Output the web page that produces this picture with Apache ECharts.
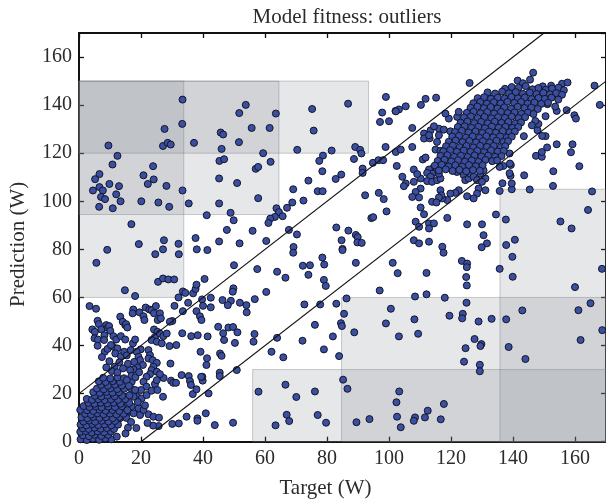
<!DOCTYPE html>
<html><head><meta charset="utf-8">
<script src="https://cdn.jsdelivr.net/npm/echarts/dist/echarts.min.js"></script>
<style>html,body{margin:0;padding:0;background:#fff}#c{width:606px;height:504px}</style>
</head><body><div id="c"></div>
<script>
const titleText = 'Model fitness: outliers';
const xName = 'Target (W)';
const yName = 'Prediction (W)';
const axisMin = 0, axisMax = 170, tickStep = 20;
const bandOffsets = [20, -20];
// outlier boxes: [x0, x1, y0, y1]
const outlierBoxes = [[0,93.4,120,150],[0,64.5,94.5,150],[0,33.8,60,150],[56,170,0,30],[84.7,170,0,60],[135.8,170,0,105]];

const sparseUpperLeft = [[33.4,142.3],[33.3,132.2],[53.8,140.1],[51.7,136.7],[63.5,136.5],[55.7,130.5],[61.5,130.5],[45.7,128.6],[46.5,127.8],[27.6,130.1],[9.5,123.2],[27.1,123.0],[28.6,124.3],[29.6,123.6],[37.1,124.3],[51.6,124.6],[46.0,121.8],[70.4,121.4],[59.4,120.0],[12.4,118.9],[45.3,116.8],[46.8,117.5],[61.8,116.4],[10.8,115.3],[23.9,114.6],[57.0,113.5],[57.8,114.3],[6.6,111.3],[5.2,109.2],[20.8,110.8],[24.1,109.1],[45.2,109.5],[51.0,107.6],[9.8,107.2],[22.2,107.2],[6.6,105.9],[12.9,106.3],[28.2,106.4],[4.5,104.5],[7.7,104.5],[33.4,104.5],[69.1,105.0],[12.0,102.9],[7.1,101.8],[8.4,100.9],[13.4,100.0],[20.1,100.0],[25.6,99.5],[35.4,99.1],[45.2,99.1],[57.8,101.3],[68.8,99.5],[6.5,97.7],[10.9,97.1],[29.1,97.7],[63.7,97.1],[67.1,97.3],[64.5,95.5],[48.9,95.2],[41.2,94.2],[65.7,93.8],[63.2,93.5],[61.7,92.8],[61.1,91.0],[49.9,92.1],[16.9,90.5],[47.7,88.1],[67.7,88.1],[56.0,87.7],[70.3,86.2],[60.4,83.5],[19.3,82.2],[27.4,83.8],[32.1,82.3],[37.6,84.7],[45.2,83.3],[51.8,82.5],[69.2,81.0],[9.1,79.8],[27.1,80.0],[38.0,80.0],[41.4,79.7]];

const sparseLowerLeft = [[24.6,78.0],[32.2,78.0],[5.6,74.4],[25.5,66.5],[27.1,67.9],[28.8,67.5],[30.7,67.5],[14.8,63.0],[18.1,60.6],[33.5,62.5],[34.3,61.9],[36.8,61.7],[37.6,63.5],[37.9,65.3],[40.5,67.7],[32.1,60.0],[50.0,73.4],[57.5,71.8],[63.9,70.7],[66.6,68.2],[69.1,78.6],[39.7,59.2],[42.5,59.9],[49.0,58.6],[49.8,63.8],[49.6,62.4],[51.9,57.8],[54.0,56.8],[54.1,53.8],[48.0,56.8],[46.3,58.9],[56.7,59.3],[60.4,62.3],[40.0,56.5],[37.9,54.3],[42.5,55.9],[35.2,57.8],[33.5,54.3],[30.8,56.5],[39.0,52.2],[39.5,50.6],[44.9,47.8],[46.5,45.1],[48.2,47.5],[49.7,47.7],[51.1,45.5],[46.8,42.3],[50.3,41.1],[45.5,36.7],[46.0,35.7],[41.5,43.8],[39.2,37.4],[41.3,34.7],[41.1,31.9],[39.9,25.4],[39.8,27.0],[33.3,45.1],[30.1,50.2],[29.3,49.9],[56.6,44.8],[56.3,41.6],[63.9,43.2],[62.1,37.4],[65.9,35.1],[50.9,29.8],[45.4,28.7],[45.4,27.3],[33.1,27.7],[35.4,27.3],[35.8,25.2],[36.1,23.6],[36.7,19.8],[37.9,21.8],[39.4,27.0],[41.8,20.1],[27.3,26.5],[29.7,25.4],[30.4,24.5],[31.3,24.5],[27.1,18.7],[34.7,10.4],[38.2,9.7],[38.2,8.7],[40.9,11.8],[43.8,6.9],[49.7,7.9],[30.1,7.4],[32.2,7.6],[22.4,11.4],[24.0,10.4],[25.8,10.0],[25.7,6.5],[23.9,6.7],[15.8,5.8],[10.4,1.0],[57.9,20.8],[63.4,6.8],[66.6,23.7],[67.0,11.2],[67.8,8.6],[70.1,18.6],
[3.4,56.4],[5.5,55.3],[4.3,46.7],[5.1,45.7],[6.0,50.3],[6.4,48.9],[5.0,43.0],[6.1,42.5],[7.2,46.7],[8.2,44.3],[8.1,42.3],[6.0,39.9],[8.3,37.4],[8.8,48.5],[9.3,47.4],[9.7,48.1],[10.1,46.1],[11.1,43.9],[12.0,42.5],[11.0,39.5],[12.4,38.8],[13.3,52.0],[14.1,49.9],[14.9,48.5],[15.2,48.9],[15.6,47.5],[13.5,43.9],[14.9,42.5],[11.7,36.7],[13.5,35.6],[14.6,37.4],[15.4,35.9],[16.7,38.1],[17.4,40.9],[18.1,42.5],[17.5,55.0],[17.3,53.4],[19.5,53.8],[20.8,52.2],[21.1,50.6],[21.5,55.8],[22.7,55.0],[23.4,54.7],[24.2,53.4],[24.8,56.4],[26.1,53.4],[25.4,50.6],[26.4,51.3],[19.9,38.4],[18.6,37.4],[19.2,35.3],[19.7,33.9],[20.6,31.9],[18.8,30.9],[17.6,30.1],[16.5,29.8],[24.2,46.7],[25.3,45.7],[24.5,43.6],[26.1,45.0],[27.2,43.9],[28.3,45.0],[23.4,42.3],[25.1,41.6],[26.7,40.9],[22.4,38.1],[22.9,36.0],[22.4,34.6],[23.8,33.9],[25.1,32.8],[24.0,31.2],[23.4,29.8],[25.1,29.1],[26.1,28.1],[22.9,28.1],[21.8,27.0],[20.8,24.9],[21.8,22.9],[20.0,21.5],[18.8,18.7],[20.2,18.0],[21.8,19.4],[23.4,21.2],[24.5,24.0],[25.1,25.6],[25.3,21.5],[17.0,24.9],[16.7,22.2],[18.1,21.5],[17.6,18.7],[17.0,14.6],[19.2,13.9],[17.6,11.8],[19.7,11.1],[20.8,13.2],[15.2,18.7],[14.6,15.9],[13.8,13.4],[15.4,12.0],[14.9,10.4],[13.1,9.7],[11.7,8.7],[29.2,39.8],[31.4,40.2],[29.5,32.5],[36.2,43.9],[38.3,44.3]];

const sparseUpperRight = [[75.2,138.4],[75.7,129.4],[86.8,140.6],[99.0,143.4],[97.8,136.9],[97.1,133.0],[100.0,133.3],[102.1,137.6],[103.2,138.2],[105.4,139.5],[110.3,140.1],[111.8,142.6],[115.2,143.1],[126.0,149.2],[146.5,153.5],[166.3,148.1],[168.0,140.1],[107.5,130.5],[81.5,121.1],[89.1,122.6],[90.7,121.4],[91.1,119.9],[78.7,119.0],[77.5,116.8],[78.5,112.5],[88.7,117.6],[94.8,116.0],[96.6,117.1],[98.1,117.1],[102.5,114.7],[91.5,113.6],[91.5,111.8],[84.6,111.1],[82.8,109.3],[74.0,108.6],[77.0,104.2],[78.6,104.2],[72.4,100.3],[92.3,102.5],[96.7,103.5],[98.3,100.9],[99.2,95.8],[94.3,93.0],[94.9,93.4],[83.0,89.1],[86.9,87.8],[89.3,86.0],[89.9,85.1],[89.8,82.9],[91.2,82.7],[84.7,83.8],[85.0,80.2],
[135.7,104.3],[139.6,105.0],[145.4,104.9],[152.9,106.4],[155.3,91.6],[158.9,88.7],[164.2,96.4],[165.5,104.1],[136.6,107.5],[139.2,110.6],[138.9,111.7],[139.6,107.4],[143.6,110.8],[147.4,118.9],[149.3,118.5],[149.3,120.5],[151.0,122.4],[154.1,123.7],[153.0,112.5],[158.7,120.4],[159.2,123.7],[161.4,114.6],[147.9,129.6],[150.5,127.1],[149.4,127.2],[148.2,132.2],[136.9,114.7],[139.3,115.1],[159.8,135.8],[160.3,134.4],[157.3,137.9],[154.1,137.6],[153.6,139.4],[151.1,140.4],[150.5,135.4],[147.2,133.4],[146.1,131.6],[143.5,127.1],[138.9,119.9],[139.0,115.7],[135.7,114.3],[134.5,94.5],[137.7,92.4],[140.6,84.0],[137.8,81.8],
[111.3,128.2],[113.4,129.5],[116.1,130.2],[117.7,129.8],[119.8,129.1],[114.5,131.2],[119.3,134.4],[122.0,135.1],[122.5,137.2],[118.2,136.5],[102.2,137.4],[111.3,126.1],[113.1,126.2],[115.5,124.7],[116.1,127.5],[112.9,127.5],[98.9,122.6],[102.2,120.5],[103.8,121.5],[107.5,122.6],[115.0,121.5],[116.6,121.0],[117.2,119.2],[110.9,117.4],[111.8,118.2],[116.6,117.1],[117.7,115.7],[116.1,115.0],[114.5,114.3],[112.9,113.2],[115.0,112.2],[113.9,111.5],[112.3,111.8],[113.4,110.2],[112.3,108.4],[113.9,108.1],[115.5,108.8],[116.6,109.5],[116.1,111.5],[121.9,112.2],[123.6,112.2],[124.1,110.9],[124.6,108.8],[125.7,109.5],[126.2,111.5],[127.3,110.2],[128.4,108.8],[129.5,111.5],[130.5,112.9],[131.1,109.5],[130.0,108.1],[128.9,105.3],[131.1,104.6],[128.4,103.2],[125.2,102.1],[127.3,101.2],[122.5,104.6],[121.4,103.5],[119.8,103.2],[118.8,100.5],[117.2,101.2],[116.6,104.6],[116.9,102.5],[116.1,101.6],[113.9,99.8],[115.3,99.5],[110.2,105.3],[108.0,108.1],[108.6,103.9],[107.5,101.8],[109.7,101.6],[110.2,97.4],[111.3,94.6],[105.4,107.4],[104.8,106.3],[104.3,110.2],[108.0,113.2],[110.2,109.5],[109.1,111.3],[108.6,91.5],[109.7,89.4],[112.9,90.8],[114.5,90.8],[112.9,88.7],[118.8,93.1],[125.2,90.4],[130.0,90.4],[108.0,83.8],[109.7,82.5],[112.9,83.2],[117.2,81.1],[130.5,85.9],[131.6,82.5],[129.9,80.9]];

const sparseLowerRight = [[78.5,76.6],[79.1,73.7],[72.2,73.2],[74.5,73.4],[74.0,69.4],[79.0,67.3],[79.6,64.8],[85.0,79.7],[89.3,74.4],[101.2,74.4],[102.8,70.1],[112.1,70.2],[117.6,78.6],[123.5,75.2],[125.2,74.1],[125.1,72.6],[124.9,68.5],[125.1,65.0],[135.7,71.9],[139.8,76.9],[139.9,68.6],[168.7,71.9],[160.0,64.3],[97.0,62.9],[108.4,60.4],[112.1,61.3],[118.0,59.9],[125.0,57.8],[72.7,57.1],[77.8,57.1],[83.0,57.4],[86.3,59.6],[100.6,55.3],[85.5,53.2],[76.1,48.6],[84.5,49.3],[84.8,48.1],[88.8,45.5],[99.0,49.2],[108.2,50.9],[109.4,44.9],[103.2,43.8],[72.1,42.0],[81.9,43.8],[79.0,38.4],[83.9,35.6],[119.5,52.4],[123.8,53.2],[123.6,51.3],[128.9,50.0],[133.1,51.1],[137.8,50.9],[143.0,54.6],[161.1,54.7],[165.0,57.6],[168.8,46.4],[161.8,42.3],[127.6,42.7],[129.8,40.6],[129.5,39.8],[124.7,38.9],[138.6,39.4],[144.0,34.4],[124.2,33.3],[129.3,32.0],[129.3,29.3],[85.2,25.8],[86.6,22.0],[76.1,20.9],[77.0,11.1],[79.7,7.9],[89.5,8.1],[93.7,9.4],[103.3,20.9],[102.4,16.4],[102.6,10.4],[103.8,6.0],[108.4,10.1],[108.0,8.7],[111.6,10.1],[112.5,12.9],[117.7,15.7],[116.7,9.3]];

const clusterHigh = [[141.5,150.2],[143.2,149.1],[145.5,150.6],[155.8,148.9],[157.6,149.4],[152.3,148.1],[149.6,147.8],
[137.4,146.8],[139.6,147.5],[141.8,147.2],[144.1,147.9],[146.3,146.6],[148.2,147.1],[150.5,146.4],[152.6,146.9],[154.7,147.3],[156.4,146.2],
[131.8,145.3],[134.2,144.8],[136.5,145.6],[138.7,144.9],[140.9,145.4],[143.2,144.7],[145.4,145.2],[147.6,144.6],[149.8,145.1],[151.9,144.5],[153.9,145.0],[155.8,144.3],
[128.6,142.9],[130.7,143.3],[132.9,142.6],[135.1,143.1],[137.3,142.7],[139.5,143.4],[141.6,142.8],[143.8,143.2],[146.0,142.5],[148.2,143.0],[150.3,142.6],[152.4,143.1],[154.6,142.3],
[127.2,140.8],[129.4,141.3],[131.6,140.6],[133.8,141.2],[136.0,140.7],[138.2,141.4],[140.4,140.9],[142.6,141.3],[144.7,140.6],[146.9,141.1],[149.1,140.5],[151.3,141.0],
[126.3,138.9],[128.5,139.4],[130.6,138.7],[132.8,139.2],[135.0,138.6],[137.2,139.1],[139.4,138.5],[141.5,139.3],[143.7,138.8],[145.9,139.0],[148.0,138.4],
[125.1,136.8],[127.3,137.3],[129.5,136.6],[131.7,137.1],[133.9,136.5],[136.1,137.2],[138.3,136.7],[140.5,137.0],[142.7,136.4],[144.8,136.9],[146.6,136.3],
[124.2,134.9],[126.4,135.3],[128.6,134.6],[130.8,135.1],[133.0,134.5],[135.2,135.0],[137.4,134.7],[139.6,135.2],[141.8,134.6],[143.9,135.0],
[123.1,132.7],[125.3,133.2],[127.5,132.5],[129.7,133.0],[131.9,132.4],[134.1,133.1],[136.3,132.6],[138.5,133.0],[140.7,132.3],[142.6,132.8],
[122.2,130.9],[124.4,131.2],[126.6,130.5],[128.8,131.0],[131.0,130.4],[133.2,131.1],[135.4,130.6],[137.6,131.0],[139.8,130.5],[141.7,130.9],
[121.3,128.8],[123.5,129.3],[125.7,128.6],[127.9,129.1],[130.1,128.4],[132.3,129.0],[134.5,128.5],[136.7,129.2],[138.9,128.7],[140.6,129.0],
[120.4,126.9],[122.6,127.2],[124.8,126.5],[127.0,127.0],[129.2,126.4],[131.4,127.1],[133.6,126.6],[135.8,127.0],[138.0,126.5],[139.6,126.9],
[119.3,124.8],[121.5,125.3],[123.7,124.6],[125.9,125.1],[128.1,124.5],[130.3,125.0],[132.5,124.4],[134.7,125.2],[136.9,124.7],[138.4,125.0],
[118.4,122.9],[120.6,123.2],[122.8,122.5],[125.0,123.0],[127.2,122.4],[129.4,123.1],[131.6,122.6],[133.8,123.0],[136.0,122.5],[137.5,122.9],
[117.5,120.8],[119.7,121.3],[121.9,120.6],[124.1,121.1],[126.3,120.5],[128.5,121.0],[130.7,120.4],[132.9,121.2],[135.1,120.7],[137.0,120.9],
[116.6,118.9],[118.8,119.2],[121.0,118.5],[123.2,119.0],[125.4,118.4],[127.6,119.1],[129.8,118.6],[132.0,119.0],[134.2,118.5],[136.3,118.8],
[115.7,116.8],[117.9,117.3],[120.1,116.6],[122.3,117.1],[124.5,116.5],[126.7,117.0],[128.9,116.4],[131.1,117.2],[133.3,116.7],[134.9,117.0],
[114.8,114.9],[117.0,115.2],[119.2,114.5],[121.4,115.0],[123.6,114.4],[125.8,115.1],[128.0,114.6],[130.2,115.0],
[116.1,112.8],[118.3,113.3],[120.5,112.6],[122.7,113.1],[124.9,112.5],[127.1,113.0],[129.3,112.7]];

const clusterLow = [[0.5,1.0],[2.5,0.7],[4.5,1.3],[6.5,0.8],[8.5,1.4],
[1.3,2.6],[3.2,2.3],[5.1,2.9],[7.2,2.4],[9.4,2.8],
[0.4,4.1],[2.2,4.4],[4.1,3.8],[6.0,4.3],[8.1,3.9],[10.3,4.2],
[1.2,5.6],[3.1,5.3],[5.0,5.8],[7.0,5.4],[9.0,5.7],[11.3,5.3],
[0.5,7.1],[2.4,6.8],[4.3,7.3],[6.2,6.9],[8.2,7.2],[10.4,6.8],[12.6,7.1],
[1.4,8.4],[3.3,8.8],[5.2,8.3],[7.3,8.7],[9.5,8.4],[11.6,8.6],
[0.8,10.1],[2.7,9.8],[4.6,10.3],[6.6,9.9],[8.7,10.2],[10.9,9.8],[13.1,10.3],[15.3,9.9],
[2.0,11.6],[3.9,11.3],[5.9,11.8],[7.9,11.4],[10.0,11.7],[12.1,11.3],[14.4,11.6],
[0.4,13.2],[2.6,13.1],[4.6,12.8],[6.6,13.3],[8.6,12.9],[10.8,13.2],[13.0,12.8],[15.6,13.1],
[1.5,14.8],[3.4,14.4],[5.4,14.7],[7.3,14.3],[9.5,14.6],[11.6,14.4],[13.8,14.7],
[3.0,16.1],[5.0,15.8],[7.0,16.2],[9.1,15.9],[11.2,16.2],[13.4,15.8],[16.2,16.1],
[2.5,17.8],[4.2,17.4],[6.2,17.7],[8.3,17.3],[10.3,17.6],[12.6,17.4],[14.9,17.7],
[5.1,19.1],[7.2,18.8],[9.2,19.2],[11.5,18.9],[13.9,19.1],[16.3,19.3],
[4.6,20.6],[6.7,20.3],[8.9,20.7],[10.8,20.4],[12.9,20.6],
[5.8,22.1],[8.0,21.8],[10.2,22.2],[12.3,21.9],[14.6,22.0],
[7.1,23.6],[9.3,23.3],[11.6,23.7],[13.8,23.4],
[6.4,25.1],[8.6,24.8],[10.9,25.2],[13.2,24.9],
[7.8,26.6],[10.1,26.3],[12.4,26.7],[14.5,26.4],
[9.8,33.5],[11.5,31.2],[13.0,33.0],[10.6,29.4],[12.4,28.9],[14.2,30.5],[15.8,32.4],[16.9,27.4],[15.4,25.6],[18.2,26.8],[19.4,28.9],[17.8,33.2],[9.2,38.6],[10.3,40.2],[7.4,35.2],[8.8,30.9],[16.1,23.2],[19.0,16.5],[21.3,15.1],[22.1,7.8],[16.8,8.2],[18.5,5.7],[12.2,2.1],[15.0,3.4]];

const FONT = '"Liberation Serif","DejaVu Serif",serif';
const TXT = '#2b2b2b';
const allPoints = [].concat(sparseUpperLeft, sparseLowerLeft, sparseUpperRight, sparseLowerRight, clusterHigh, clusterLow);

function makeAxis(pos, showLabel, name, gap, extra) {
  return Object.assign({
    type: 'value', min: axisMin, max: axisMax, interval: tickStep, position: pos,
    axisLine: { show: true, onZero: false, lineStyle: { color: '#111', width: 2 } },
    axisTick: { show: true, inside: true, length: 5, lineStyle: { color: '#111', width: 1.3 } },
    axisLabel: { show: showLabel, fontFamily: FONT, fontSize: 20, color: TXT, margin: 7, showMaxLabel: false },
    splitLine: { show: false },
    name: name, nameLocation: 'middle', nameGap: gap,
    nameTextStyle: { fontFamily: FONT, fontSize: 21, color: TXT }
  }, extra || {});
}

const chart = echarts.init(document.getElementById('c'), null, { renderer: 'canvas' });
chart.setOption({
  animation: false,
  backgroundColor: '#fff',
  title: { text: titleText, left: 342, top: 2, textAlign: 'center',
    textStyle: { fontFamily: FONT, fontSize: 21, fontWeight: 'normal', color: TXT } },
  grid: { left: 78.5, top: 33, width: 529, height: 408.7 },
  xAxis: [
    makeAxis('bottom', true, xName, 36, { nameTextStyle: { fontFamily: FONT, fontSize: 21, color: TXT, padding: [0, 34, 0, 0] } }),
    makeAxis('top', false, '', 0)
  ],
  yAxis: [
    makeAxis('left', true, yName, 50, { nameTextStyle: { fontFamily: FONT, fontSize: 21, color: TXT, padding: [0, 14, 0, 0] } }),
    makeAxis('right', false, '', 0)
  ],
  series: [
    {
      type: 'scatter', data: allPoints, z: 2,
      symbol: 'circle', symbolSize: 7,
      itemStyle: { color: '#3a4ea2', borderColor: '#141626', borderWidth: 1, opacity: 1 },
      markArea: {
        silent: true, z: 1,
        itemStyle: { color: 'rgba(118,122,132,0.18)', borderColor: 'rgba(110,112,118,0.35)', borderWidth: 1 },
        data: outlierBoxes.map(b => [{ coord: [b[0], b[2]] }, { coord: [b[1], b[3]] }])
      }
    }
  ].concat(bandOffsets.map(off => ({
    type: 'line', z: 3, symbol: 'none', silent: true,
    lineStyle: { color: '#111', width: 1.1 },
    data: off >= 0 ? [[axisMin, axisMin + off], [axisMax - off, axisMax]] : [[axisMin - off, axisMin], [axisMax, axisMax + off]]
  })))
});
</script>
</body></html>
